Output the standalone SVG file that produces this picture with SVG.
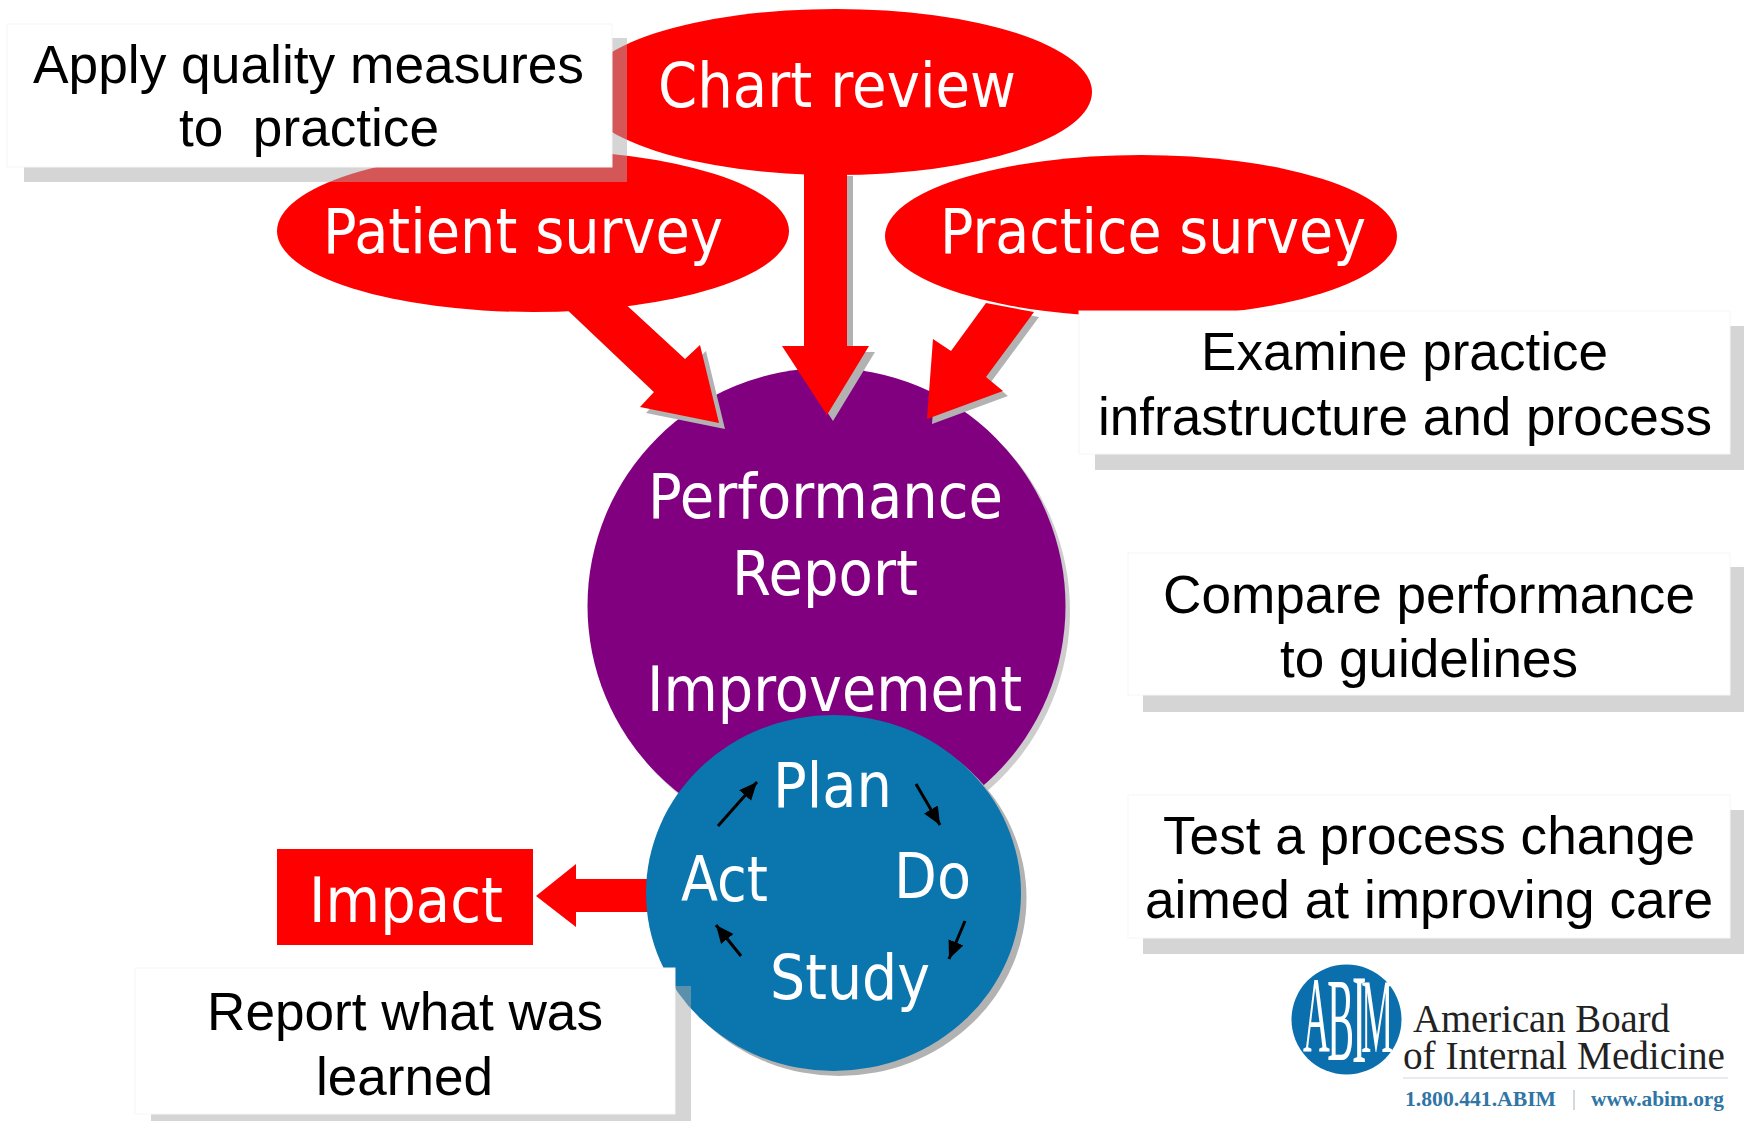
<svg xmlns="http://www.w3.org/2000/svg" width="1744" height="1121" viewBox="0 0 1744 1121">
<style>
.w{font-family:"DejaVu Sans","Liberation Sans",sans-serif;font-size:62px;fill:#fff}
.b{font-family:"Liberation Sans",Arial,sans-serif;font-size:54px;fill:#000}
.red{fill:#f00}
.sh{fill:#b2b2b2}
.boxsh{fill:#acacac;fill-opacity:.5}
.box{fill:#fff;stroke:#f6f6f6;stroke-width:1}
.thin{stroke:#000;stroke-width:3;fill:none;marker-end:url(#ah)}
</style>
<defs>
<marker id="ah" markerUnits="userSpaceOnUse" markerWidth="20" markerHeight="18" refX="18" refY="8" orient="auto"><path d="M0 0L18 8L0 16Z" fill="#000"/></marker>
<polygon id="arrowC" points="804,170 847,170 847,346 869,346 827,415 782,346 804,346"/>
<polygon id="arrowL" points="557,300 621,300 685,359 700,345 719,423 640,407 654,392"/>
<polygon id="arrowR" points="986,303 1034,312 986,377 1003,391 927,419 933,339 951,351"/>
</defs>
<rect width="1744" height="1121" fill="#fff"/>

<g id="performance-report">
<ellipse cx="831" cy="611" rx="239" ry="238" fill="#cdcdcd"/>
<ellipse cx="826.5" cy="606" rx="239" ry="238" fill="#800080"/>
<text class="w" x="648" y="518" textLength="355" lengthAdjust="spacingAndGlyphs">Performance</text>
<text class="w" x="732" y="595" textLength="186" lengthAdjust="spacingAndGlyphs">Report</text>
<text class="w" x="647" y="711" textLength="375" lengthAdjust="spacingAndGlyphs">Improvement</text>
</g>

<g id="connectors">
<use href="#arrowC" class="sh" transform="translate(6,6)"/>
<use href="#arrowL" class="sh" transform="translate(6,6)"/>
<use href="#arrowR" class="sh" transform="translate(5,5)"/>
<use href="#arrowC" class="red"/>
<use href="#arrowL" class="red"/>
<use href="#arrowR" class="red"/>
<polygon class="red" points="536,896 576,864 576,879 660,879 660,912 576,912 576,927" />
</g>

<g id="patient-survey">
<ellipse class="red" cx="533" cy="231" rx="256" ry="81"/>
<text class="w" x="323" y="253" textLength="400" lengthAdjust="spacingAndGlyphs">Patient survey</text>
</g>
<g id="chart-review">
<ellipse class="red" cx="836" cy="92" rx="256" ry="83"/>
<text class="w" x="658" y="107" textLength="358" lengthAdjust="spacingAndGlyphs">Chart review</text>
</g>
<g id="practice-survey">
<ellipse class="red" cx="1141" cy="236" rx="256" ry="81"/>
<text class="w" x="940" y="253" textLength="426" lengthAdjust="spacingAndGlyphs">Practice survey</text>
</g>

<g id="pdsa">
<ellipse cx="839" cy="898" rx="187.5" ry="178" fill="#b2b2b2"/>
<ellipse cx="833.5" cy="893" rx="187.5" ry="178" fill="#0b75ad"/>
<text class="w" x="773" y="807" textLength="119" lengthAdjust="spacingAndGlyphs">Plan</text>
<text class="w" x="894" y="898" textLength="77" lengthAdjust="spacingAndGlyphs">Do</text>
<text class="w" x="681" y="901" textLength="87" lengthAdjust="spacingAndGlyphs">Act</text>
<text class="w" x="770" y="999" textLength="160" lengthAdjust="spacingAndGlyphs">Study</text>
<line class="thin" x1="718" y1="826" x2="757" y2="782"/>
<line class="thin" x1="916" y1="784" x2="940" y2="825"/>
<line class="thin" x1="965" y1="921" x2="949" y2="959"/>
<line class="thin" x1="741" y1="956" x2="716" y2="925"/>
</g>

<g id="impact">
<rect class="red" x="277" y="849" width="256" height="96"/>
<text class="w" x="309" y="922" textLength="194" lengthAdjust="spacingAndGlyphs">Impact</text>
</g>

<g id="apply-box">
<rect class="boxsh" x="24" y="38" width="603" height="144"/>
<rect class="box" x="7" y="24" width="605" height="143"/>
<text class="b" x="33" y="83" textLength="551" lengthAdjust="spacingAndGlyphs">Apply quality measures</text>
<text class="b" x="179" y="146" textLength="260" lengthAdjust="spacingAndGlyphs" xml:space="preserve">to  practice</text>
</g>
<g id="examine-box">
<rect class="boxsh" x="1095" y="326" width="649" height="144"/>
<rect class="box" x="1079" y="311" width="651" height="143"/>
<text class="b" x="1201" y="370" textLength="407" lengthAdjust="spacingAndGlyphs">Examine practice</text>
<text class="b" x="1098" y="435" textLength="614" lengthAdjust="spacingAndGlyphs">infrastructure and process</text>
</g>
<g id="compare-box">
<rect class="boxsh" x="1143" y="567" width="601" height="145"/>
<rect class="box" x="1128" y="553" width="602" height="142"/>
<text class="b" x="1163" y="613" textLength="532" lengthAdjust="spacingAndGlyphs">Compare performance</text>
<text class="b" x="1280" y="677" textLength="298" lengthAdjust="spacingAndGlyphs">to guidelines</text>
</g>
<g id="test-box">
<rect class="boxsh" x="1143" y="810" width="601" height="144"/>
<rect class="box" x="1128" y="795" width="602" height="143"/>
<text class="b" x="1163" y="854" textLength="532" lengthAdjust="spacingAndGlyphs">Test a process change</text>
<text class="b" x="1145" y="918" textLength="568" lengthAdjust="spacingAndGlyphs">aimed at improving care</text>
</g>
<g id="report-box">
<rect class="boxsh" x="151" y="986" width="540" height="135"/>
<rect class="box" x="135" y="968" width="540" height="146"/>
<text class="b" x="207" y="1030" textLength="396" lengthAdjust="spacingAndGlyphs">Report what was</text>
<text class="b" x="316" y="1095" textLength="177" lengthAdjust="spacingAndGlyphs">learned</text>
</g>

<g id="abim-logo">
<circle cx="1346.5" cy="1019.5" r="55" fill="#0b6fae"/>
<text transform="translate(1303,0) scale(.34,1)" style="font-family:'Liberation Serif',serif;fill:#fff"><tspan x="0" y="1052" font-size="109">A</tspan><tspan x="71" y="1060" font-size="118">B</tspan><tspan x="144" y="1062" font-size="127">I</tspan><tspan x="171" y="1052" font-size="105">M</tspan></text>
<text x="1413" y="1032" textLength="257" lengthAdjust="spacingAndGlyphs" style="font-family:'Liberation Serif',serif;font-size:39px;fill:#222">American Board</text>
<text x="1403" y="1069" textLength="322" lengthAdjust="spacingAndGlyphs" style="font-family:'Liberation Serif',serif;font-size:39px;fill:#222">of Internal Medicine</text>
<line x1="1403" y1="1078" x2="1728" y2="1078" stroke="#dfe5ea" stroke-width="1.5"/>
<text x="1405" y="1106" textLength="151" lengthAdjust="spacingAndGlyphs" style="font-family:'Liberation Serif',serif;font-size:21px;font-weight:bold;fill:#2f75a5">1.800.441.ABIM</text>
<line x1="1574" y1="1090" x2="1574" y2="1110" stroke="#c4ccd2" stroke-width="1.5"/>
<text x="1591" y="1106" textLength="133" lengthAdjust="spacingAndGlyphs" style="font-family:'Liberation Serif',serif;font-size:21px;font-weight:bold;fill:#2f75a5">www.abim.org</text>
</g>
</svg>
